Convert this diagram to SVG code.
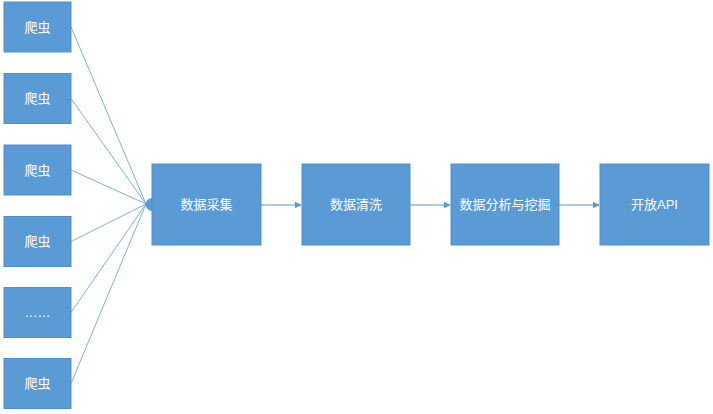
<svg xmlns="http://www.w3.org/2000/svg" width="713" height="414" viewBox="0 0 713 414">
<defs>
<style>
.box{fill:#5B9BD5;stroke:#4F8FCB;stroke-width:1}
.t{fill:#FFFFFF;font-family:"Liberation Sans","Noto Sans CJK SC",sans-serif;font-size:13px;text-anchor:middle;dominant-baseline:central}
.ln{stroke:#7FB0DD;stroke-width:1;fill:none}
.ar{stroke:#5B9BD5;stroke-width:1.2;fill:none}
</style>
<marker id="ah" viewBox="0 0 10 10" refX="9" refY="5" markerWidth="7" markerHeight="7" orient="auto" markerUnits="userSpaceOnUse">
<path d="M0,0 L10,5 L0,10 z" fill="#5B9BD5"/>
</marker>
</defs>
<rect width="713" height="414" fill="#FFFFFF"/>
<g id="connectors">
<line class="ln" x1="71" y1="27" x2="146" y2="204"/>
<line class="ln" x1="71" y1="98.5" x2="146" y2="204"/>
<line class="ln" x1="71" y1="170" x2="146" y2="204"/>
<line class="ln" x1="71" y1="241.5" x2="146" y2="204"/>
<line class="ln" x1="71" y1="312.5" x2="146" y2="204"/>
<line class="ln" x1="71" y1="383.5" x2="146" y2="204"/>
<circle cx="152" cy="204.5" r="6.5" fill="#5B9BD5"/>
<line class="ar" x1="261" y1="205" x2="301" y2="205" marker-end="url(#ah)"/>
<line class="ar" x1="410" y1="205" x2="450" y2="205" marker-end="url(#ah)"/>
<line class="ar" x1="559" y1="205" x2="599" y2="205" marker-end="url(#ah)"/>
</g>
<g id="crawler1"><rect class="box" x="4" y="2" width="67" height="50"/><text class="t" x="37.5" y="27">爬虫</text></g>
<g id="crawler2"><rect class="box" x="4" y="73.5" width="67" height="50"/><text class="t" x="37.5" y="98.5">爬虫</text></g>
<g id="crawler3"><rect class="box" x="4" y="145" width="67" height="50"/><text class="t" x="37.5" y="170">爬虫</text></g>
<g id="crawler4"><rect class="box" x="4" y="216.5" width="67" height="50"/><text class="t" x="37.5" y="241.5">爬虫</text></g>
<g id="crawler5"><rect class="box" x="4" y="287.5" width="67" height="50"/><text class="t" x="37.5" y="312.5">……</text></g>
<g id="crawler6"><rect class="box" x="4" y="358.5" width="67" height="50"/><text class="t" x="37.5" y="383.5">爬虫</text></g>
<g id="collect"><rect class="box" x="152" y="164" width="109" height="81"/><text class="t" x="206.5" y="204.5">数据采集</text></g>
<g id="clean"><rect class="box" x="302" y="164" width="108" height="81"/><text class="t" x="356" y="204.5">数据清洗</text></g>
<g id="analysis"><rect class="box" x="451" y="164" width="108" height="81"/><text class="t" x="505" y="204.5">数据分析与挖掘</text></g>
<g id="api"><rect class="box" x="600" y="164" width="109" height="81"/><text class="t" x="654.5" y="204.5">开放API</text></g>
</svg>
